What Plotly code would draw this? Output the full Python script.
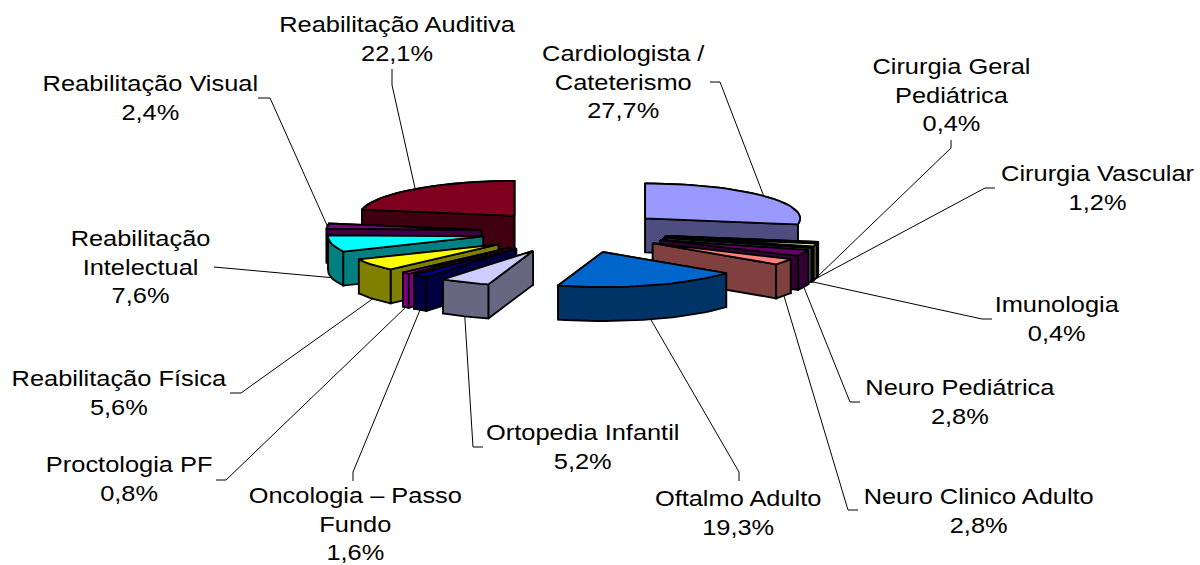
import math
import plotly.graph_objects as go

categories = ["Cardiologista / Cateterismo", "Cirurgia Geral Pediátrica", "Cirurgia Vascular", "Imunologia",
              "Neuro Pediátrica", "Neuro Clinico Adulto", "Oftalmo Adulto", "Ortopedia Infantil",
              "Oncologia – Passo Fundo", "Proctologia PF", "Reabilitação Física", "Reabilitação Intelectual",
              "Reabilitação Visual", "Reabilitação Auditiva"]
values = [27.7, 0.4, 1.2, 0.4, 2.8, 2.8, 19.3, 5.2, 1.6, 0.8, 5.6, 7.6, 2.4, 22.1]
value_labels = ["27,7%", "0,4%", "1,2%", "0,4%", "2,8%", "2,8%", "19,3%", "5,2%", "1,6%", "0,8%", "5,6%", "7,6%", "2,4%", "22,1%"]
label_lines = ["Cardiologista /<br>Cateterismo", "Cirurgia Geral<br>Pediátrica", "Cirurgia Vascular", "Imunologia",
               "Neuro Pediátrica", "Neuro Clinico Adulto", "Oftalmo Adulto", "Ortopedia Infantil",
               "Oncologia – Passo<br>Fundo", "Proctologia PF", "Reabilitação Física", "Reabilitação<br>Intelectual",
               "Reabilitação Visual", "Reabilitação Auditiva"]
top_colors = ["#9999FF", "#993366", "#FFFFCC", "#CCFFFF", "#660066", "#FF8080", "#0066CC", "#CCCCFF",
              "#000080", "#FF00FF", "#FFFF00", "#00FFFF", "#800080", "#800020"]
side_colors = ["#4D4D80", "#4D1A33", "#808066", "#668080", "#330033", "#804040", "#003366", "#666680",
               "#000040", "#800080", "#808000", "#008080", "#400040", "#400010"]

# layout of the projected pie (pixels)
CX, CY, PULL, R, KY, DEPTH = 574, 232, 93, 155, 0.226, 34
label_pos = [(624, 82), (951, 95), (1097, 188), (1057, 319), (960, 402), (978, 511), (738, 513), (583, 447),
             (355, 524), (129, 479), (119, 393), (140, 267), (150, 98), (397, 39)]
elbows = [[(720, 82), (710, 82)], [(951, 148), (951, 140)], [(985, 188), (995, 188)], [(982, 319), (992, 319)],
          [(850, 402), (860, 402)], [(848, 510), (858, 510)], [(739, 472), (739, 481)], [(473, 447), (483, 447)],
          [(353, 472), (353, 481)], [(226, 480), (216, 480)], [(241, 393), (230, 393)], [(214, 267)],
          [(270, 98), (258, 98)], [(392, 85), (392, 69)]]
leader_from_wall_bottom = [False, True, True, True, True, True, True, True, True, True, True, True, False, False]
draw_order = [0, 13, 1, 2, 3, 4, 5, 12, 11, 10, 9, 8, 7, 6]

total = sum(values)
spans, a = [], 0.0
for v in values:
    spans.append((a, a + v / total * 2 * math.pi))
    a += v / total * 2 * math.pi


def proj(ang, radius=R):
    return radius * math.sin(ang), -radius * KY * math.cos(ang)


fig = go.Figure()


def poly(pts, color):
    xs = [p[0] for p in pts] + [pts[0][0]]
    ys = [p[1] for p in pts] + [pts[0][1]]
    fig.add_trace(go.Scatter(x=xs, y=ys, mode="lines", fill="toself", fillcolor=color,
                             line=dict(color="black", width=1.8), hoverinfo="skip", showlegend=False))


geom = []
for i, (a0, a1) in enumerate(spans):
    mid = (a0 + a1) / 2
    dx, dy = proj(mid, PULL)
    ax, ay = CX + dx, CY + dy
    n = max(2, int((a1 - a0) / 0.05))
    rim = [(ax + proj(a0 + (a1 - a0) * k / n)[0], ay + proj(a0 + (a1 - a0) * k / n)[1]) for k in range(n + 1)]
    mx, my = proj(mid)
    geom.append((ax, ay, rim, (ax + mx, ay + my)))

# leader lines sit behind the slices
for i, pts in enumerate(elbows):
    sx, sy = geom[i][3]
    if leader_from_wall_bottom[i]:
        sy += DEPTH
    path = [(sx, sy)] + pts
    fig.add_trace(go.Scatter(x=[p[0] for p in path], y=[p[1] for p in path], mode="lines",
                             line=dict(color="black", width=1), hoverinfo="skip", showlegend=False))

for i in draw_order:
    ax, ay, rim, _ = geom[i]
    down = lambda p: (p[0], p[1] + DEPTH)
    walls = [[(ax, ay), rim[0], down(rim[0]), (ax, ay + DEPTH)],
             [(ax, ay), rim[-1], down(rim[-1]), (ax, ay + DEPTH)],
             rim + [down(p) for p in reversed(rim)]]
    walls.sort(key=lambda w: sum(p[1] for p in w) / len(w))
    for w in walls:
        poly(w, side_colors[i])
    poly([(ax, ay)] + rim, top_colors[i])

for i, (x, y) in enumerate(label_pos):
    fig.add_annotation(x=x, y=y, text=f"{label_lines[i]}<br>{value_labels[i]}", showarrow=False,
                       xanchor="center", yanchor="middle", align="center",
                       font=dict(family="Liberation Sans, Arial", size=22, color="black"))

fig.update_xaxes(visible=False, range=[0, 1200], fixedrange=True)
fig.update_yaxes(visible=False, range=[565, 0], fixedrange=True)
fig.update_layout(width=1200, height=565, margin=dict(l=0, r=0, t=0, b=0), plot_bgcolor="white",
                  paper_bgcolor="white", showlegend=False)

# the reference's lettering is stretched horizontally
stretch_js = """
document.body.style.margin='0';
document.querySelectorAll('.annotation-text').forEach(function(t){
  var b=t.getBBox(); var c=b.x+b.width/2;
  t.setAttribute('transform','translate('+c+' 0) scale(1.155 1) translate('+(-c)+' 0)');
});
"""
fig.write_html("out.html", post_script=stretch_js, config={"displayModeBar": False})
